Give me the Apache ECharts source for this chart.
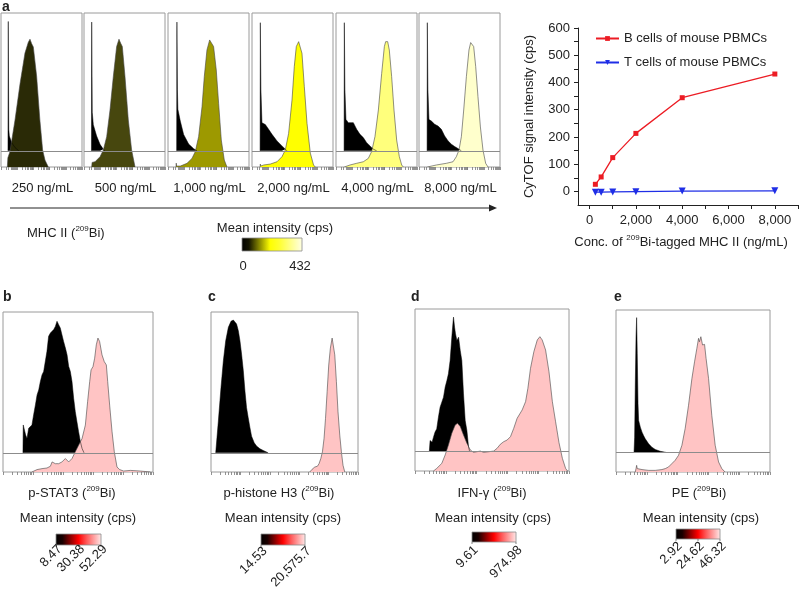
<!DOCTYPE html>
<html><head><meta charset="utf-8">
<script src="https://cdn.jsdelivr.net/npm/echarts@6/dist/echarts.min.js"></script>
<style>html,body{margin:0;padding:0;background:#fff}#c{width:800px;height:590px}</style>
</head><body><div id="c"></div>
<script>
// ---------------- DATA ----------------
const concentrations = [250, 500, 1000, 2000, 4000, 8000];
const bCellSignal = [26, 53, 124, 213, 344, 431];
const tCellSignal = [-3, -3, -2, -1, 1, 2];
const concLabels = ['250 ng/mL', '500 ng/mL', '1,000 ng/mL', '2,000 ng/mL', '4,000 ng/mL', '8,000 ng/mL'];
const xTickLabels = [0, 2000, 4000, 6000, 8000];
const xTickMarks = [0, 1000, 2000, 3000, 4000, 5000, 6000, 7000, 8000, 9000];
const yTickLabels = [0, 100, 200, 300, 400, 500, 600];
const yTickMarks = [0, 50, 100, 150, 200, 250, 300, 350, 400, 450, 500, 550, 600];

// histograms: [channel position (% of axis), relative count]
const mhc250Ctrl = [[8.6,0],[9.0,84],[9.6,14],[10.3,9.6],[13.2,5.3],[17.3,2.1],[19.3,1],[22,0]];
const mhc250Stain = [[7.8,0],[8.5,6],[11.1,10],[17.3,30.5],[23.5,54],[29.6,74],[33.7,81],[35.8,83],[37.9,80],[39.9,78],[44,59],[48,30.5],[51.4,11],[54.3,4.5],[58.4,0]];
const mhc500Ctrl = [[9.2,0],[9.5,83.6],[10.2,25],[11.5,17],[15.6,9.6],[19.8,4.2],[23.9,1],[26,0]];
const mhc500Stain = [[9.5,0],[10,3],[13.6,3.4],[19.8,6.7],[23.9,11],[28,19.7],[32.1,37],[36.2,58.7],[40.3,78.2],[43.2,83],[45.3,80.3],[47.3,78.2],[50.6,58.7],[54.7,30.5],[58.8,11],[63,0]];
const mhc1000Ctrl = [[10.7,0],[11,83.6],[11.6,40],[12.2,27],[15.2,19.3],[19.3,10.6],[25.5,4.4],[31.7,1.4],[35.8,0]];
const mhc1000Stain = [[9.9,0],[10.2,2.5],[10.6,0.6],[15.2,0.6],[23.5,2.4],[29.6,5.6],[33.7,10],[37.8,19.7],[42,39.2],[44.8,58.7],[48.1,76],[51.4,82.5],[53.5,81.4],[56.3,78.2],[59.6,63],[62.5,41.3],[65.8,17.5],[69.5,4.5],[72.8,0]];
const mhc2000Ctrl = [[10,0],[10.3,83.2],[11,40],[12.3,18.2],[16.4,17.1],[20.5,14],[24.7,10.7],[30.9,6.4],[37,3.2],[41.1,1.1],[43.2,0]];
const mhc2000Stain = [[10,0],[10.3,1.9],[10.8,0.6],[14.4,1.3],[22.6,1.9],[30.9,3.4],[37,6.7],[41.1,11],[45.2,21.8],[49.4,43.5],[52.2,65.2],[54.7,78.2],[57.6,81.4],[59.6,81.8],[61.7,73.8],[64.6,52.2],[67.9,28.4],[72,9],[76,1.3],[78.1,0]];
const mhc4000Ctrl = [[10,0],[10.3,83.2],[11,40],[12.3,20.4],[15.2,18.3],[17.3,17.2],[21.4,18.3],[25.5,14],[29.6,10.7],[33.7,8.6],[37.9,5.3],[42,3.2],[46,1.1],[50.2,0]];
const mhc4000Stain = [[10.3,0],[17.3,1.3],[25.5,2.4],[33.7,3.4],[39.9,5.6],[44,10],[48.1,19.7],[52.3,37],[56.4,60.8],[59.7,78.2],[61.3,81.4],[62.6,80.3],[63.8,81.4],[65.8,76],[68.7,58.7],[71.6,37],[74.9,17.5],[78.2,6.7],[81.1,1.3],[83.1,0]];
const mhc8000Ctrl = [[10,0],[10.3,83.2],[11,40],[12.3,20.4],[15.3,19.3],[19.4,17.2],[23.5,16.1],[27.6,14],[31.7,9.7],[35.8,6.5],[40,4.3],[44,2.8],[48.1,1.5],[52.3,0]];
const mhc8000Stain = [[10.3,0],[21.4,1.3],[33.8,2.4],[42,3.4],[46.1,6.7],[49.4,11],[52.3,19.7],[55.2,37],[58.5,58.7],[61.7,76],[63.8,80.8],[65.4,81.4],[67.5,78.2],[70,65.2],[72.8,45.7],[75.8,26],[79,11],[82.3,2.4],[85.2,0]];

const pstat3Ctrl = [[13.3,0],[13.5,17.4],[14.4,18.4],[15.1,11.1],[16,9],[17.1,15.3],[18.2,14.2],[19.3,17.4],[20.4,23.7],[21.6,29.9],[22.7,36.2],[23.8,39.3],[24.9,44.5],[26,48.7],[27.1,50.8],[29.3,63.4],[30.4,72.8],[31.6,74.9],[32.7,75.9],[33.8,77],[34.9,79],[36,82.2],[37.1,80.1],[38.2,78],[39.3,73.8],[40.4,69.6],[41.6,65.5],[42.7,61.3],[43.8,54],[44.9,50.8],[46,44.5],[47.1,34.1],[48.2,25.7],[49.3,19.4],[50.4,13.2],[51.6,6.9],[52.7,2.7],[54,0]];
const pstat3Stain = [[19.3,0],[22.7,1.5],[26,2.1],[29.3,2.5],[31.6,3.6],[32.7,6.3],[33.8,7.3],[34.9,5.2],[37.1,5.2],[39.3,6.3],[41.6,8.4],[42.7,7.3],[43.8,6.3],[46,8.4],[48.2,12.6],[50.4,16.7],[52.7,20.9],[54.9,29.3],[56.4,43.9],[57.8,56.5],[58.7,63.8],[60,65.9],[61.1,71.1],[62.2,79.5],[63.3,83.7],[64.4,81.6],[66,73.2],[67.5,69],[68.9,66.9],[69.8,56.5],[71.1,41.8],[72.7,25.1],[74.2,12.6],[76,3.1],[77.8,1.5],[80.4,0.6],[84.9,1],[91.5,0.6],[98.2,0]];
const histoneCtrl = [[3.2,0],[5,19.8],[6.8,40.8],[8.4,57.5],[10,70],[11.8,78.4],[13.6,82.2],[15.2,83],[16.3,82.6],[17.4,80.5],[18.6,76.3],[19.7,70],[20.8,61.7],[22,51.2],[23.1,38.6],[24.2,28.2],[25.3,22],[26.5,15.7],[27.6,10.4],[29.4,6.3],[31,4.2],[33.3,2.5],[35.5,1.5],[38.9,0]];
const histoneStain = [[67.2,0],[68.8,1.7],[70.6,3.1],[72.4,3.6],[73.5,5.2],[74.7,8.4],[75.8,12.6],[76.9,20.9],[77.9,33.5],[79,50.2],[80.1,66.9],[81.2,77.4],[82.4,83.7],[83.3,82.6],[84.2,73.2],[85.3,56.5],[86.4,37.6],[87.6,23],[88.7,12.6],[89.8,4.2],[91,0]];
const ifngCtrl = [[9.3,0],[9.8,6.8],[10.4,7.8],[11.1,5.8],[12,8.9],[13,12],[14.1,14],[15.2,21.2],[16.3,27.4],[17.4,30.5],[18.5,33.6],[19.6,39.8],[20.7,43.8],[21.7,48],[22.8,56.2],[23.9,70.6],[24.6,78.8],[25,83],[25.7,76.8],[26.3,72.7],[27.2,68.5],[28.3,70.6],[29.4,62.3],[30.4,56.2],[31.5,35.6],[32.6,19.1],[33.7,13],[34.8,2.7],[35.5,0]];
const ifngStain = [[12,0],[14.1,1.6],[17.4,4.7],[19.6,9.9],[21.7,16],[23.9,23.3],[26.1,28.4],[27.6,29.4],[29.4,27.4],[31.5,22.2],[33.7,17.1],[35.9,13],[38,11.5],[40.2,11.9],[42.4,12.3],[44.6,11.5],[47.8,11.9],[51.1,12.3],[53.3,14],[55.4,16.5],[57.6,18.1],[59.8,19.1],[62,21.2],[64.1,26.3],[66.3,32.5],[69.6,37.7],[71.8,42.8],[73.3,51],[75,63.4],[77.2,73.7],[79.4,80.9],[81.1,82.9],[82.6,80.9],[84.8,74.7],[87,61.3],[89.2,42.8],[91.3,30.4],[93.5,17.5],[95.7,7.8],[97.8,1.6],[99,0]];
const peCtrl = [[11.7,0],[12.1,9.5],[12.5,40.4],[13,71.4],[13.4,83.3],[13.8,61],[14.3,30.1],[14.7,19.8],[15.8,15.7],[16.9,12.6],[17.9,10.5],[19,8.5],[21.2,5.4],[23.3,3.3],[25.5,1.9],[28.7,0.8],[33,0]];
const peStain = [[12.5,0],[13,2.1],[13.4,4.1],[13.8,2.1],[14.7,1],[16.9,1.5],[21.2,1],[25.5,1],[29.8,1.5],[32,2.1],[34.1,3.1],[36.3,5.2],[38.4,7.2],[40.6,10.3],[42.8,16.5],[44.9,26.8],[47.1,41.2],[49.3,57.8],[51,68],[52.5,76.3],[53.6,82.5],[54.2,80.4],[55.1,83.5],[56.2,78.4],[57.5,78.8],[58.5,70.1],[60.1,57.8],[62.2,35],[64.4,16.5],[66.6,6.2],[68.7,2.1],[70.8,0]];

const markerNames = ['p-STAT3', 'p-histone H3', 'IFN-\u03b3', 'PE'];
const scaleLabelsA = ['0', '432'];
const scaleLabelsB = ['8.47', '30.38', '52.29'];
const scaleLabelsC = ['14.53', '20,575.7'];
const scaleLabelsD = ['9.61', '974.98'];
const scaleLabelsE = ['2.92', '24.62', '46.32'];

// ---------------- LAYOUT / STYLE ----------------
const FONT = 'Liberation Sans, Arial, Helvetica, sans-serif';
const TXT = '#222';
const yellows = ['#2a2a06', '#47470e', '#9d9900', '#ffff00', '#ffff7c', '#ffffcc'];
const PINK = '#ffc4c4';

const panels = [
  {f:{left:1,top:13,width:81,height:154}, off:10.5, ctrl:mhc250Ctrl, stain:mhc250Stain, color:yellows[0]},
  {f:{left:84,top:13,width:81,height:154}, off:10.5, ctrl:mhc500Ctrl, stain:mhc500Stain, color:yellows[1]},
  {f:{left:168,top:13,width:81,height:154}, off:10.5, ctrl:mhc1000Ctrl, stain:mhc1000Stain, color:yellows[2]},
  {f:{left:252,top:13,width:81,height:154}, off:10.5, ctrl:mhc2000Ctrl, stain:mhc2000Stain, color:yellows[3]},
  {f:{left:336,top:13,width:81,height:154}, off:10.5, ctrl:mhc4000Ctrl, stain:mhc4000Stain, color:yellows[4]},
  {f:{left:419,top:13,width:81,height:154}, off:10.5, ctrl:mhc8000Ctrl, stain:mhc8000Stain, color:yellows[5]},
  {f:{left:3,top:312,width:150,height:160}, off:12, ctrl:pstat3Ctrl, stain:pstat3Stain, color:PINK},
  {f:{left:211,top:312,width:147,height:160}, off:12, ctrl:histoneCtrl, stain:histoneStain, color:PINK},
  {f:{left:415,top:309,width:154,height:162}, off:12, ctrl:ifngCtrl, stain:ifngStain, color:PINK},
  {f:{left:616,top:310,width:154,height:162}, off:12, ctrl:peCtrl, stain:peStain, color:PINK}
];

const logTicks = [];
[1, 10, 100, 1000, 10000].forEach(d => { for (let k = 1; k <= 9; k++) logTicks.push(k * d); });
logTicks.push(100000);

const grid = [], xAxis = [], yAxis = [], series = [];
panels.forEach((p, i) => {
  grid.push(Object.assign({show:true, borderColor:'#9a9a9a', borderWidth:1, backgroundColor:'#fff'}, p.f));
  xAxis.push({gridIndex:i, type:'value', min:0, max:100, show:false});
  xAxis.push({gridIndex:i, type:'log', min:1, max:100000, position:'bottom',
    axisLine:{show:false, onZero:false}, axisLabel:{show:false}, splitLine:{show:false},
    axisTick:{show:true, length:3, customValues:logTicks, lineStyle:{color:'#777', width:0.8}}});
  yAxis.push({gridIndex:i, type:'value', min:0, max:100, show:false});
  yAxis.push({gridIndex:i, type:'value', min:-p.off, max:100 - p.off, show:false});
  series.push({type:'line', xAxisIndex:2*i, yAxisIndex:2*i+1, data:p.ctrl, symbol:'none', silent:true,
    lineStyle:{color:'#000', width:0.5}, areaStyle:{color:'#000', opacity:1},
    markLine:{silent:true, symbol:'none', label:{show:false}, animation:false,
      lineStyle:{color:'#8c8c8c', width:1, type:'solid'}, data:[{yAxis:0}]}});
  series.push({type:'line', xAxisIndex:2*i, yAxisIndex:2*i, data:p.stain, symbol:'none', silent:true,
    lineStyle:{color:'#444', width:0.6}, areaStyle:{color:p.color, opacity:1}});
});

// line chart
const LG = panels.length;
grid.push({left:578, top:28, width:220, height:177});
xAxis.push({gridIndex:LG, type:'value', min:-500, max:9000,
  axisLine:{show:true, onZero:false, lineStyle:{color:'#222', width:1}},
  axisTick:{show:true, length:4, customValues:xTickMarks, lineStyle:{color:'#222'}},
  axisLabel:{customValues:xTickLabels, formatter:v => Number(v).toLocaleString('en-US'), fontSize:13, color:TXT, margin:9, fontFamily:FONT},
  splitLine:{show:false},
  name:'{n|Conc. of }{s|209}{n|Bi-tagged MHC II (ng/mL)}', nameLocation:'middle', nameGap:29,
  nameTextStyle:{padding:[0,14,0,0], rich:{n:{fontSize:13, lineHeight:16, color:TXT, fontFamily:FONT}, s:{fontSize:8, lineHeight:7, verticalAlign:'top', color:TXT, fontFamily:FONT}}}});
yAxis.push({gridIndex:LG, type:'value', min:-50, max:600,
  axisLine:{show:true, onZero:false, lineStyle:{color:'#222', width:1}},
  axisTick:{show:true, length:4, customValues:yTickMarks, lineStyle:{color:'#222'}},
  axisLabel:{customValues:yTickLabels, fontSize:13, color:TXT, margin:8, fontFamily:FONT},
  splitLine:{show:false},
  name:'CyTOF signal intensity (cps)', nameLocation:'middle', nameGap:42,
  nameTextStyle:{fontSize:13, color:TXT, fontFamily:FONT}});
series.push({name:'B cells of mouse PBMCs', type:'line', xAxisIndex:2*LG, yAxisIndex:2*LG,
  data:concentrations.map((c, k) => [c, bCellSignal[k]]), symbol:'rect', symbolSize:5,
  itemStyle:{color:'#ec1c24'}, lineStyle:{color:'#ec1c24', width:1.3}});
series.push({name:'T cells of mouse PBMCs', type:'line', xAxisIndex:2*LG, yAxisIndex:2*LG,
  data:concentrations.map((c, k) => [c, tCellSignal[k]]), symbol:'triangle', symbolRotate:180, symbolSize:7,
  itemStyle:{color:'#1f2ee6'}, lineStyle:{color:'#1f2ee6', width:1.3}});

// ---------------- GRAPHIC (annotations / colour scales) ----------------
const G = [];
function txt(x, y, text, o) {
  o = o || {};
  G.push({type:'text', x:x, y:y, rotation:o.rot || 0, silent:true,
    style:Object.assign({text:text, fill:TXT, fontSize:13, fontFamily:FONT,
      align:o.align || 'center', verticalAlign:o.va || 'middle'}, o.style || {})});
}
const supRich = {n:{fontSize:13, lineHeight:16, fill:TXT, fontFamily:FONT},
                 s:{fontSize:8, lineHeight:7, verticalAlign:'top', fill:TXT, fontFamily:FONT}};
function supTxt(x, y, pre, align) {
  txt(x, y, '{n|' + pre + ' (}{s|209}{n|Bi)}', {align:align || 'center', style:{rich:supRich}});
}
function bar(x, y, w, h, stops) {
  G.push({type:'rect', silent:true, shape:{x:x, y:y, width:w, height:h},
    style:{fill:new echarts.graphic.LinearGradient(0, 0, 1, 0, stops), stroke:'#8a8a8a', lineWidth:0.8}});
}
const yellowStops = [{offset:0,color:'#000'},{offset:0.12,color:'#141400'},{offset:0.47,color:'#ffff00'},{offset:0.62,color:'#ffff30'},{offset:1,color:'#ffffe6'}];
const redStops = [{offset:0,color:'#000'},{offset:0.15,color:'#1a0000'},{offset:0.5,color:'#ff0000'},{offset:0.68,color:'#ff5a5a'},{offset:1,color:'#ffeaea'}];

// panel letters
txt(2, 0, 'a', {align:'left', va:'top', style:{fontWeight:'bold', fontSize:14}});
[['b',3],['c',208],['d',411],['e',614]].forEach(l => txt(l[1], 290, l[0], {align:'left', va:'top', style:{fontWeight:'bold', fontSize:14}}));

// panel a annotations
panels.slice(0, 6).forEach((p, i) => txt(p.f.left + p.f.width / 2 + 1, 188, concLabels[i]));
G.push({type:'line', silent:true, shape:{x1:10, y1:208, x2:492, y2:208}, style:{stroke:'#222', lineWidth:1}});
G.push({type:'polygon', silent:true, shape:{points:[[489,204.5],[497,208],[489,211.5]]}, style:{fill:'#222'}});
supTxt(27, 233, 'MHC II', 'left');
txt(275, 228, 'Mean intensity (cps)');
bar(242, 238, 60, 13, yellowStops);
txt(243, 266, scaleLabelsA[0]);
txt(300, 266, scaleLabelsA[1]);

// panels b-e annotations
const bottomSpecs = [
  {cx:72, mx:78, bar:[56,534,45,11], labels:scaleLabelsB, dy:2},
  {cx:279, mx:283, bar:[261,534,44,11], labels:scaleLabelsC, dy:4},
  {cx:492, mx:493, bar:[472,532,44,10], labels:scaleLabelsD, dy:6},
  {cx:699, mx:701, bar:[676,529,44,10], labels:scaleLabelsE, dy:5}
];
bottomSpecs.forEach((s, i) => {
  supTxt(s.cx, 493, markerNames[i]);
  txt(s.mx, 518, 'Mean intensity (cps)');
  const b = s.bar;
  bar(b[0], b[1], b[2], b[3], redStops);
  const n = s.labels.length;
  s.labels.forEach((lab, k) => {
    const x = b[0] + b[2] * k / (n - 1);
    G.push({type:'line', silent:true, shape:{x1:x, y1:b[1] + b[3], x2:x, y2:b[1] + b[3] + 2}, style:{stroke:'#666', lineWidth:0.8}});
    txt(x + 4, b[1] + b[3] + s.dy, lab, {align:'right', rot:Math.PI / 4});
  });
});

const chart = echarts.init(document.getElementById('c'), null, {renderer:'canvas'});
chart.setOption({
  animation:false,
  backgroundColor:'#fff',
  textStyle:{fontFamily:FONT},
  legend:{data:['B cells of mouse PBMCs', 'T cells of mouse PBMCs'], left:590, top:27, orient:'vertical',
    itemWidth:23, itemHeight:6, itemGap:11, textStyle:{fontSize:13, color:TXT, fontFamily:FONT, lineHeight:13}},
  grid:grid, xAxis:xAxis, yAxis:yAxis, series:series, graphic:G
});
</script></body></html>
